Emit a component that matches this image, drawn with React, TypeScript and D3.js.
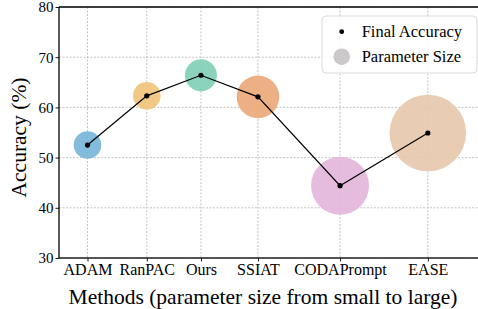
import * as d3 from "d3"
import React, { useEffect, useRef } from "react"

// methods, ordered by parameter size
const methods = ["ADAM", "RanPAC", "Ours", "SSIAT", "CODAPrompt", "EASE"]
const xPositions = [0.5, 1.54, 2.49, 3.49, 4.93, 6.47]
const accuracy = [52.5, 62.3, 66.4, 62.1, 44.4, 54.9]
const paramSize = [1.9, 1.9, 2.56, 4.54, 8.41, 14.67]
const colors = ["#7ab6d9", "#f0c57b", "#82d0b8", "#ebaa7b", "#e3b7dc", "#e6c9ae"]
const yTicks = [30, 40, 50, 60, 70, 80]

const W = 478
const H = 309
const FONT = "'Liberation Serif', 'Times New Roman', Times, serif"

const App = () => {
    const refSvg = useRef<SVGSVGElement>(null)

    useEffect(() => {
        const svg = d3.select(refSvg.current)
        svg.selectAll("*").remove()

        const margins = { left: 59, right: 0, top: 7, bottom: 51 }
        const scaleX = d3.scaleLinear().domain([0, 7.35]).range([margins.left, W - margins.right])
        const scaleY = d3.scaleLinear().domain([30, 80]).range([H - margins.bottom, margins.top])
        const scaleR = d3.scaleSqrt().domain([0, d3.max(paramSize)]).range([0, 38.3])

        const data = methods.map((m, i) => ({
            name: m, x: xPositions[i], y: accuracy[i], s: paramSize[i], c: colors[i]
        }))

        // grid
        const gGrid = svg.append("g")
        gGrid.selectAll(".gy").data(yTicks).join("line")
            .attr("x1", margins.left).attr("x2", W)
            .attr("y1", d => scaleY(d)).attr("y2", d => scaleY(d))
            .attr("stroke", "#b5b5b5").attr("stroke-width", 0.8).attr("stroke-dasharray", "2,1.5")
        gGrid.selectAll(".gx").data(xPositions).join("line")
            .attr("x1", d => scaleX(d)).attr("x2", d => scaleX(d))
            .attr("y1", margins.top).attr("y2", H - margins.bottom)
            .attr("stroke", "#b5b5b5").attr("stroke-width", 0.8).attr("stroke-dasharray", "2,1.5")

        // bubbles
        svg.append("g").selectAll("circle").data(data).join("circle")
            .attr("cx", d => scaleX(d.x)).attr("cy", d => scaleY(d.y))
            .attr("r", d => scaleR(d.s))
            .attr("fill", d => d.c).attr("fill-opacity", 0.93)

        // accuracy line
        const line = d3.line<any>().x(d => scaleX(d.x)).y(d => scaleY(d.y))
        svg.append("path").datum(data)
            .attr("d", line).attr("fill", "none")
            .attr("stroke", "#000").attr("stroke-width", 1.2)
        svg.append("g").selectAll("circle").data(data).join("circle")
            .attr("cx", d => scaleX(d.x)).attr("cy", d => scaleY(d.y))
            .attr("r", 2.6).attr("fill", "#000")

        // axes
        const gY = svg.append("g").attr("transform", `translate(${margins.left},0)`)
            .call(d3.axisLeft(scaleY).tickValues(yTicks).tickSize(3.5).tickPadding(2))
        const gX = svg.append("g").attr("transform", `translate(0,${H - margins.bottom})`)
            .call(d3.axisBottom(scaleX).tickValues(xPositions)
                .tickFormat((d, i) => methods[i]).tickSize(3.5).tickPadding(2))
        for (const g of [gX, gY]) {
            g.attr("font-family", null)
            g.select(".domain").remove()
            g.selectAll("line").attr("stroke", "#000").attr("stroke-width", 0.9)
            g.selectAll("text").style("font-family", FONT).attr("fill", "#000")
        }
        gX.selectAll("text").style("font-size", "16px")
        gY.selectAll("text").style("font-size", "15px")

        // spines
        svg.append("line").attr("x1", margins.left).attr("x2", W)
            .attr("y1", margins.top).attr("y2", margins.top)
            .attr("stroke", "#000").attr("stroke-width", 1.3)
        svg.append("line").attr("x1", margins.left).attr("x2", W)
            .attr("y1", H - margins.bottom).attr("y2", H - margins.bottom)
            .attr("stroke", "#222").attr("stroke-width", 1.3)
        svg.append("line").attr("x1", margins.left).attr("x2", margins.left)
            .attr("y1", margins.top).attr("y2", H - margins.bottom)
            .attr("stroke", "#000").attr("stroke-width", 1.3)

        // axis titles
        svg.append("text").attr("x", 263).attr("y", 304)
            .attr("text-anchor", "middle")
            .style("font-family", FONT).style("font-size", "21.5px")
            .text("Methods (parameter size from small to large)")
        svg.append("text")
            .attr("transform", `translate(26,137.5) rotate(-90)`)
            .attr("text-anchor", "middle")
            .style("font-family", FONT).style("font-size", "21.5px")
            .text("Accuracy (%)")

        // legend
        const gL = svg.append("g").attr("transform", "translate(322,16)")
        gL.append("rect").attr("width", 155).attr("height", 57).attr("rx", 4)
            .attr("fill", "#fff").attr("fill-opacity", 0.85)
            .attr("stroke", "#d9d9d9").attr("stroke-width", 1)
        gL.append("circle").attr("cx", 19.7).attr("cy", 15.7).attr("r", 2.4).attr("fill", "#000")
        gL.append("circle").attr("cx", 19.7).attr("cy", 40.7).attr("r", 8.3).attr("fill", "#cbc9ca")
        gL.append("text").attr("x", 39.7).attr("y", 20.7)
            .style("font-family", FONT).style("font-size", "16.5px").text("Final Accuracy")
        gL.append("text").attr("x", 39.7).attr("y", 45.7)
            .style("font-family", FONT).style("font-size", "16.5px").text("Parameter Size")
    }, [])

    return (
        <svg ref={refSvg} width={W} height={H}
            style={{ position: "absolute", left: 0, top: 0, background: "#fff", display: "block" }} />
    )
}

export default App
